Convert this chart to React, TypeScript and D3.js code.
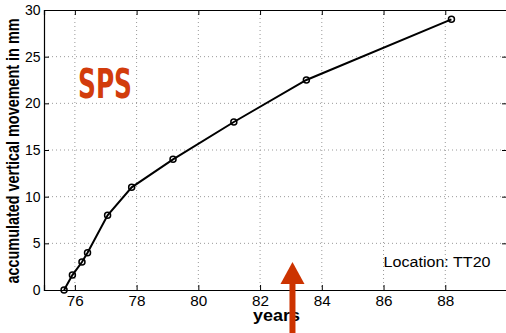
import React, {useEffect, useRef} from "react";
import * as d3 from "d3";

const years: number[] = [75.65, 75.92, 76.23, 76.41, 77.06, 77.84, 79.18, 81.15, 83.5, 88.2];
const movement: number[] = [0, 1.6, 3, 4, 8, 11, 14, 18, 22.5, 29];
const xTicks: number[] = [76, 78, 80, 82, 84, 86, 88];
const yTicks: number[] = [0, 5, 10, 15, 20, 25, 30];

const App: React.FC = () => {
    const svgRef = useRef<SVGSVGElement>(null);
    const width = 506;
    const height = 333;
    const margin = {top: 10, right: -1, bottom: 43, left: 44};
    const innerWidth = width - margin.left - margin.right;
    const innerHeight = height - margin.top - margin.bottom;
    const font = "'Liberation Sans', Arial, sans-serif";

    useEffect(() => {
        const svg = d3.select(svgRef.current);
        svg.selectAll("*").remove();

        const x = d3.scaleLinear().domain([75, 90]).range([0, innerWidth]);
        const y = d3.scaleLinear().domain([0, 30]).range([innerHeight, 0]);

        const g = svg.append("g").attr("transform", `translate(${margin.left},${margin.top})`);

        // dotted grid
        g.selectAll(".gx").data(xTicks).enter().append("line")
            .attr("x1", d => x(d)).attr("x2", d => x(d))
            .attr("y1", 0).attr("y2", innerHeight)
            .attr("stroke", "#999").attr("stroke-width", 1)
            .attr("stroke-dasharray", "1,3");
        g.selectAll(".gy").data(yTicks.slice(1, -1)).enter().append("line")
            .attr("y1", d => y(d)).attr("y2", d => y(d))
            .attr("x1", 0).attr("x2", innerWidth)
            .attr("stroke", "#999").attr("stroke-width", 1)
            .attr("stroke-dasharray", "1,3");

        // axes box, ticks pointing inward
        const bottom = g.append("g").attr("transform", `translate(0,${innerHeight})`)
            .call(d3.axisBottom(x).tickValues(xTicks).tickSize(-5).tickPadding(6));
        const top = g.append("g").call(d3.axisTop(x).tickValues(xTicks).tickSize(-5).tickFormat(() => ""));
        const left = g.append("g")
            .call(d3.axisLeft(y).tickValues(yTicks).tickSize(-5).tickPadding(3.5));
        const right = g.append("g").attr("transform", `translate(${innerWidth},0)`)
            .call(d3.axisRight(y).tickValues(yTicks).tickSize(-5).tickFormat(() => ""));
        [bottom, top, left, right].forEach(a => {
            a.select(".domain").attr("stroke", "#000").attr("stroke-width", 1.2);
            a.selectAll(".tick line").attr("stroke", "#000");
            a.selectAll("text").attr("font-family", font).attr("font-size", 14).attr("fill", "#000");
        });
        bottom.selectAll("text").attr("dy", "0.71em").attr("textLength", 17).attr("lengthAdjust", "spacingAndGlyphs");

        // line + open circle markers
        g.append("path")
            .datum(years.map((yr, i) => [yr, movement[i]] as [number, number]))
            .attr("fill", "none")
            .attr("stroke", "#000")
            .attr("stroke-width", 2)
            .attr("d", d3.line<[number, number]>().x(d => x(d[0])).y(d => y(d[1])));

        g.selectAll(".pt").data(years).enter().append("circle")
            .attr("cx", d => x(d))
            .attr("cy", (d, i) => y(movement[i]))
            .attr("r", 3)
            .attr("fill", "none")
            .attr("stroke", "#000")
            .attr("stroke-width", 1.5);

        // labels
        svg.append("text")
            .attr("x", margin.left + innerWidth / 2 + 1)
            .attr("y", 321)
            .attr("text-anchor", "middle")
            .attr("font-family", font)
            .attr("font-weight", "bold")
            .attr("font-size", 17)
            .attr("textLength", 47)
            .attr("lengthAdjust", "spacingAndGlyphs")
            .text("years");

        svg.append("text")
            .attr("transform", `translate(19,${margin.top + innerHeight / 2 + 1}) rotate(-90)`)
            .attr("text-anchor", "middle")
            .attr("font-family", font)
            .attr("font-weight", "bold")
            .attr("font-size", 18)
            .attr("textLength", 265)
            .attr("lengthAdjust", "spacingAndGlyphs")
            .text("accumulated vertical movement in mm");

        g.append("text")
            .attr("x", x(86.0))
            .attr("y", y(2.5))
            .attr("font-family", font)
            .attr("font-size", 14)
            .attr("textLength", 107)
            .attr("lengthAdjust", "spacingAndGlyphs")
            .text("Location: TT20");

        svg.append("text")
            .attr("x", 78)
            .attr("y", 98)
            .attr("font-family", "'DejaVu Sans', sans-serif")
            .attr("font-weight", "bold")
            .attr("font-size", 41)
            .attr("textLength", 54)
            .attr("lengthAdjust", "spacingAndGlyphs")
            .attr("fill", "#d23c0c")
            .text("SPS");

        // arrow
        const arrowX = margin.left + x(83.05);
        svg.append("rect")
            .attr("x", arrowX - 3).attr("y", 280)
            .attr("width", 6).attr("height", 60)
            .attr("fill", "#cc3300");
        svg.append("path")
            .attr("d", `M${arrowX},262 L${arrowX - 12},284 L${arrowX + 12},284 Z`)
            .attr("fill", "#cc3300");
    }, []);

    return <svg ref={svgRef} width={width} height={height} style={{position: "absolute", left: 0, top: 0}}></svg>;
};

export default App;
